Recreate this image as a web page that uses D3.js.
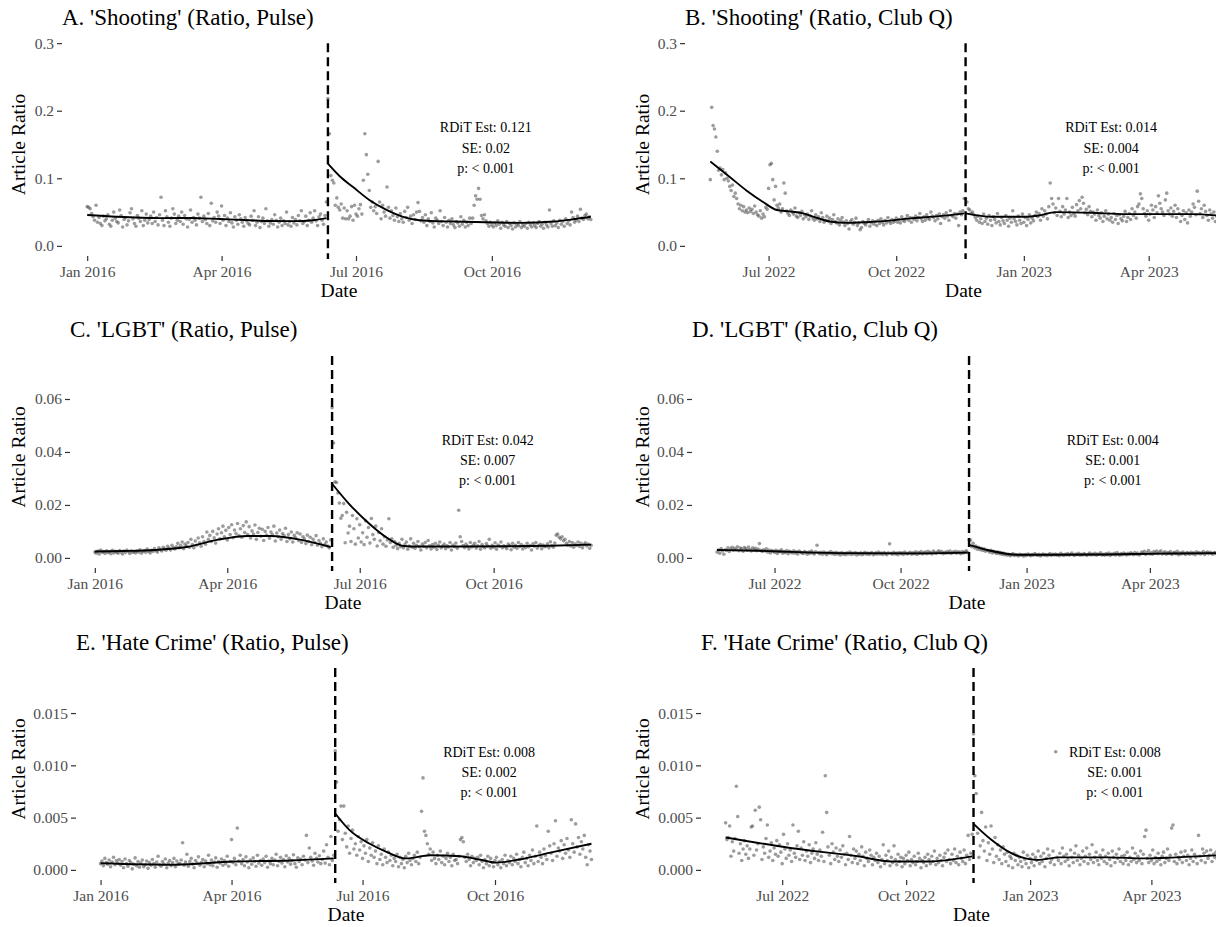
<!DOCTYPE html>
<html>
<head>
<meta charset="utf-8">
<script src="https://cdn.jsdelivr.net/npm/d3@7"></script>
<style>
  body { margin: 0; background: #fff; }
  svg { display: block; font-family: "Liberation Serif", "Times New Roman", serif; }
</style>
</head>
<body>
<div id="chart"></div>
<script>
// ---- dates ----
const pulseStart = "2016-01-01", pulseEvent = "2016-06-12";
const clubqStart = "2022-05-20", clubqEvent = "2022-11-20";
const pulseTicks = ["2016-01-01", "2016-04-01", "2016-07-01", "2016-10-01"];
const clubqTicks = ["2022-07-01", "2022-10-01", "2023-01-01", "2023-04-01"];

// ---- daily values (integers; multiply by the panel unit) ----
// A. 'Shooting' Pulse, unit 0.001
const shootingPulsePre = [
  58,57,55,48,43,38,60, 35,42,33,30,44,37,40, 46,32,29,38,50,41,36, 34,53,45,28,39,42,31,
  37,49,55,40,33,29,45, 41,36,52,30,38,47,34, 39,44,33,50,36,42,31, 46,72,38,30,52,43,35,
  29,41,55,47,33,38,44, 36,50,32,45,40,28,39, 53,35,42,38,31,47,41, 72,36,44,39,33,48,30,
  63,37,42,35,50,44,33, 59,38,45,30,41,36,49, 34,28,43,38,32,46,40, 35,29,42,37,33,31,44,
  38,52,30,35,43,27,36, 41,33,55,37,29,34,39, 32,46,38,28,35,41,30, 37,33,50,31,36,29,42,
  34,39,31,45,37,52,33, 36,44,30,38,49,35,41, 52,37,30,43,47,38,32, 45,65
];
const shootingPulsePost = [
  218,166,104,97,93,60,71, 57,53,62,41,56,40,52, 40,44,58,38,60,47,44, 55,61,47,97,166,135,106,
  82,57,65,52,58,48,125, 65,40,60,50,44,87,57, 41,52,45,38,56,43,36, 48,40,35,51,42,57,38,
  44,33,46,39,50,64,51, 37,42,35,46,30,40,36, 49,34,28,41,38,33,52, 36,30,42,35,28,38,33,
  40,31,27,36,34,29,43, 32,38,28,35,30,41,33, 41,60,74,69,85,69,45, 40,46,37,33,29,35,31,
  28,34,30,37,32,26,35, 31,29,36,27,33,30,25, 34,28,32,30,36,27,31, 29,33,26,35,31,28,34,
  30,27,33,36,29,32,26, 35,31,28,53,33,29,37, 30,34,27,38,32,36,29, 40,33,37,31,50,42,35,
  38,44,36,54,41,39,45, 47,40,43,39
];
// B. 'Shooting' Club Q, unit 0.001
const shootingClubqPre = [
  98,205,178,173,161,140,112, 115,105,113,98,108,100,96, 88,82,90,73,78,70,62, 55,60,52,58,50,53,49,
  56,51,54,48,59,50,46, 44,52,41,47,43,57,54, 85,120,122,98,68,88,60, 56,62,50,55,93,78,52,
  48,45,53,50,47,56,44, 42,49,45,51,40,46,43, 47,39,44,52,41,38,46, 40,43,36,49,42,35,38,
  44,37,41,33,39,46,36, 34,40,31,38,42,35,30, 37,33,25,36,39,32,35, 41,30,34,24,27,36,33,
  31,35,39,29,34,37,32, 36,30,38,33,40,35,31, 38,34,42,36,33,39,35, 37,41,35,39,34,43,38,
  36,40,45,38,42,35,41, 39,44,37,42,48,40,36, 43,38,46,41,39,50,44, 42,37,45,40,47,33,43,
  46,41,49,44,38,52,45, 43,48,41,47,30,50,46, 52,70
];
const shootingClubqPost = [
  70,65,55,53,48,50,46, 42,38,44,35,40,33,47, 36,41,32,45,38,30,43, 39,34,48,36,31,42,37,
  33,45,38,29,41,35,52, 40,36,31,44,38,33,47, 35,42,30,39,46,34,41, 37,45,50,43,48,38,55,
  44,52,47,40,58,93,70, 62,49,56,45,70,51,43, 58,47,53,70,42,50,45, 57,48,44,61,52,67,55,
  72,63,49,54,46,58,51, 43,50,47,38,53,45,41, 49,36,44,52,40,47,38, 42,35,48,39,45,33,46,
  40,37,44,51,36,42,48, 39,55,45,50,41,58,62, 77,70,55,48,44,52,38, 47,60,53,42,58,49,74,
  63,55,50,45,68,78,52, 47,56,44,51,60,42,55, 48,36,45,52,39,49,34, 53,44,50,62,57,46,81,
  66,48,55,42,60,51,45, 38,53,47,41,50,36,44
];
// C. 'LGBT' Pulse, unit 0.0001
const lgbtPulsePre = [
  22,18,26,15,30,21,24, 17,27,20,23,16,29,19, 25,21,18,28,22,15,26, 20,30,24,17,27,21,23,
  19,26,22,31,18,24,28, 21,33,25,19,29,24,35, 27,22,38,31,26,40,33, 29,44,36,30,48,38,34,
  42,55,39,47,60,35,52, 45,58,40,70,50,38,64, 48,75,57,44,80,62,52, 98,70,85,62,100,76,56,
  90,110,72,95,120,80,104, 68,115,88,125,76,105,92, 130,84,110,78,122,96,136, 88,118,75,102,90,124,70,
  96,112,82,108,66,100,86, 115,74,98,88,120,64,94, 80,105,70,92,84,112,62, 88,72,98,60,85,76,95,
  66,90,58,80,72,54,86, 62,78,50,70,58,84,48, 66,55,42,72,50,60,45, 38,68
];
const lgbtPulsePost = [
  567,434,287,285,245,207,150, 160,205,57,172,94,120,62, 160,110,52,148,75,125,60, 95,50,140,78,115,56,149,
  88,70,120,45,96,65,110, 52,80,44,68,148,58,72, 40,62,48,35,55,42,70, 38,50,60,33,45,72,40,
  55,36,48,62,42,30,52, 44,58,38,66,46,34,50, 40,55,32,48,60,38,45, 52,35,46,41,58,30,49,
  43,56,36,180,80,62,47, 39,52,44,34,58,41,48, 55,37,46,62,33,50,42, 38,54,45,70,36,48,40,
  57,33,49,44,60,38,46, 42,35,52,47,31,55,40, 48,36,58,43,50,34,45, 39,55,41,47,30,53,44,
  58,37,46,51,35,49,42, 44,53,38,61,47,40,56, 86,90,78,72,80,65,70, 55,48,62,45,58,40,52,
  47,60,43,55,38,50,57, 45,52,36,48
];
// D. 'LGBT' Club Q, unit 0.0001
const lgbtClubqPre = [
  22,30,18,35,26,14,31, 28,38,24,33,40,29,36, 31,42,27,37,34,25,39, 35,29,41,32,26,38,30,
  36,27,33,54,29,24,31, 26,34,22,30,19,28,25, 21,29,17,26,23,31,18, 24,20,28,16,25,22,19,
  27,18,23,15,26,21,19, 17,24,20,14,22,18,26, 19,15,23,48,20,16,21, 14,22,18,12,20,17,24,
  16,19,13,21,15,18,11, 20,14,17,12,19,15,22, 13,18,15,20,11,17,14, 19,12,16,21,14,18,13,
  17,20,12,15,19,14,22, 15,18,13,20,16,12,19, 53,17,14,21,15,18,12, 20,16,19,13,22,17,15,
  18,21,14,19,16,23,13, 20,17,24,15,19,22,16, 25,18,21,15,26,20,17, 22,27,19,24,16,21,18,
  24,19,26,17,22,20,25, 18,23,21,16,24,19,22, 27,20
];
const lgbtClubqPost = [
  69,67,42,55,38,45,33, 40,31,36,28,34,25,30, 27,22,29,19,25,21,17, 23,16,20,13,18,12,15,
  10,14,8,12,16,9,13, 11,7,14,10,12,6,13, 9,15,11,8,13,10,16, 12,9,14,7,11,15,10,
  13,8,12,16,9,14,11, 15,10,13,8,17,12,9, 14,11,16,10,13,18,12, 9,15,12,17,10,14,11,
  16,13,9,14,18,11,15, 12,17,10,15,13,19,11, 14,10,16,12,18,9,15, 13,17,11,20,14,10,16,
  12,18,15,11,17,13,19, 16,12,20,14,18,11,15, 22,17,25,13,19,28,15, 20,14,24,18,26,16,21,
  27,15,19,23,14,20,17, 24,13,18,21,16,25,12, 19,15,22,17,13,20,18, 14,21,16,19,12,23,17,
  20,15,18,24,13,19,22, 16,21,17,14,20,18,15
];
// E. 'Hate Crime' Pulse, unit 0.00001
const hatePulsePre = [
  60,85,40,110,70,55,95, 30,75,120,50,90,65,100, 45,80,20,105,60,35,90, 70,10,55,115,40,80,25,
  65,95,30,50,85,15,70, 45,100,60,25,75,130,50, 35,80,55,105,20,65,90, 40,70,110,30,85,55,60,
  95,260,45,75,150,35,80, 110,55,20,90,65,125,45, 70,100,30,85,60,140,50, 95,40,75,115,25,80,65,
  105,45,90,60,130,35,80, 290,70,110,50,400,85,140, 60,100,40,125,75,20,95, 55,115,80,35,140,65,90,
  45,105,70,130,25,85,60, 110,50,95,150,40,80,120, 65,100,30,135,75,110,55, 90,145,60,25,115,80,105,
  50,130,95,330,70,210,120, 85,45,160,110,75,135,60, 100,180,65,240,120,50,320, 90,140
];
const hatePulsePost = [
  1140,840,370,480,610,290,610, 350,220,420,160,300,380,200, 250,140,320,190,270,110,230, 160,290,80,210,140,260,120,
  180,60,230,100,150,50,200, 120,70,170,90,140,40,110, 80,150,30,120,60,100,20, 130,70,160,90,50,110,140,
  80,170,60,120,560,880,370, 330,250,150,200,90,170,110, 60,140,100,180,70,130,50, 110,160,80,120,40,150,90,
  100,60,130,290,310,270,120, 80,150,100,40,130,70,110, 90,120,50,140,80,20,100, 60,130,40,110,70,30,90,
  120,50,80,20,100,60,140, 40,90,70,130,50,110,80, 150,60,100,30,120,170,70, 110,40,140,90,190,60,130,
  420,80,170,120,60,200,140, 100,370,230,160,90,250,470, 130,210,180,280,110,240,160, 300,190,120,480,250,170,440,
  220,310,150,270,200,330,120, 50,240,180,100
];
// F. 'Hate Crime' Club Q, unit 0.00001
const hateClubqPre = [
  450,290,310,420,130,270,180, 300,800,510,160,250,90,200, 280,150,230,110,200,410,420, 140,570,190,250,600,480,100,
  220,160,300,430,120,180,260, 90,210,150,280,130,240,170, 60,340,200,110,250,140,190, 80,430,160,120,230,370,100,
  210,140,270,90,180,130,240, 70,160,200,110,260,150,90, 190,130,360,80,900,550,220, 140,60,250,170,100,210,130,
  80,190,120,230,150,50,160, 100,320,140,70,200,110,180, 60,150,90,220,130,40,170, 110,80,190,140,50,120,90,
  160,70,130,30,100,240,60, 140,90,180,40,120,70,230, 100,50,150,80,120,30,110, 60,140,90,170,40,100,70,
  130,50,80,160,110,20,90, 70,120,40,150,100,60,130, 80,180,50,110,70,140,90, 40,120,160,80,190,100,60,
  150,90,200,70,130,50,170, 110,80,190,60,140,330,100, 160,340
];
const hateClubqPost = [
  1300,900,730,350,120,230,550, 280,180,410,90,260,150,420, 200,70,310,130,240,100,190, 60,220,150,80,170,40,130,
  110,20,160,90,140,50,120, 80,30,170,100,60,140,20, 110,70,150,40,120,90,180, 60,130,80,160,30,110,200,
  140,70,100,180,50,1130,120, 90,160,60,210,130,80,150, 100,40,190,120,70,160,230, 90,140,50,110,180,80,130,
  210,60,150,100,240,70,120, 170,90,50,140,110,190,80, 130,60,160,100,40,180,120, 70,150,110,200,80,130,60,
  140,90,170,50,120,80,210, 100,160,70,130,90,180,60, 150,320,380,110,70,140,90, 190,60,120,80,160,100,50,
  130,170,70,110,200,90,140, 400,430,80,150,60,120,100, 170,70,130,180,90,140,50, 110,190,80,150,120,60,330,
  130,90,200,160,70,180,110, 140,190,80,150,120,170,100
];

// ---- smooth fits: [day offset, ratio] ----
const shootingPulseFitPre = [[0,0.0456],[20,0.043],[49,0.041],[70,0.0412],[90,0.0397],[110,0.038],[122,0.0368],[140,0.0366],[153,0.038],[162,0.041]];
const shootingPulseFitPost = [[0,0.1216],[8,0.103],[17,0.087],[28,0.068],[40,0.053],[51,0.043],[62,0.038],[85,0.036],[108,0.035],[130,0.034],[153,0.036],[165,0.039],[178,0.043]];
const shootingClubqFitPre = [[0,0.125],[14,0.102],[26,0.082],[38,0.065],[48,0.053],[57,0.051],[67,0.048],[76,0.042],[86,0.036],[98,0.034],[112,0.035],[127,0.037],[146,0.041],[165,0.044],[183,0.048]];
const shootingClubqFitPost = [[0,0.048],[19,0.043],[43,0.043],[53,0.045],[65,0.05],[91,0.049],[115,0.047],[139,0.047],[163,0.047],[181,0.045]];
const lgbtPulseFitPre = [[0,0.0024],[20,0.0026],[41,0.003],[63,0.0041],[84,0.0068],[105,0.0083],[121,0.0083],[142,0.0068],[162,0.0041]];
const lgbtPulseFitPost = [[0,0.028],[11,0.0208],[25,0.0132],[38,0.0075],[49,0.0045],[60,0.0043],[90,0.0043],[120,0.0044],[150,0.0046],[178,0.005]];
const lgbtClubqFitPre = [[0,0.003],[30,0.0027],[60,0.0022],[100,0.0018],[140,0.0017],[183,0.002]];
const lgbtClubqFitPost = [[0,0.0049],[15,0.0028],[35,0.0012],[60,0.0012],[100,0.0013],[140,0.0016],[181,0.0018]];
const hatePulseFitPre = [[0,0.00064],[51,0.0005],[92,0.0008],[132,0.0009],[162,0.0011]];
const hatePulseFitPost = [[0,0.0054],[10,0.0038],[24,0.0025],[36,0.0017],[49,0.0011],[66,0.0014],[87,0.0013],[100,0.001],[112,0.0007],[128,0.001],[151,0.0017],[178,0.0025]];
const hateClubqFitPre = [[0,0.0031],[48,0.0021],[98,0.0013],[123,0.0008],[148,0.0008],[183,0.0013]];
const hateClubqFitPost = [[0,0.0044],[13,0.0029],[28,0.0016],[47,0.00096],[64,0.0012],[100,0.0012],[127,0.0011],[150,0.0012],[181,0.0014]];

const titles = ["A. 'Shooting' (Ratio, Pulse)", "B. 'Shooting' (Ratio, Club Q)", "C. 'LGBT' (Ratio, Pulse)",
                "D. 'LGBT' (Ratio, Club Q)", "E. 'Hate Crime' (Ratio, Pulse)", "F. 'Hate Crime' (Ratio, Club Q)"];
const rdEst = ["0.121", "0.014", "0.042", "0.004", "0.008", "0.008"];
const rdSE = ["0.02", "0.004", "0.007", "0.001", "0.002", "0.001"];
const rdP = ["< 0.001", "< 0.001", "< 0.001", "< 0.001", "< 0.001", "< 0.001"];
const yTicksShooting = [0, 0.1, 0.2, 0.3];
const yTicksLgbt = [0, 0.02, 0.04, 0.06];
const yTicksHate = [0, 0.005, 0.01, 0.015];

// ---- layout ----
const W = 1216, H = 927;
const rows = [{top: 33, bottom: 256, title: 25}, {top: 346, bottom: 568, title: 337}, {top: 658, bottom: 880, title: 650}];
const cols = [{right: 616, ylab: 19}, {right: 1242, ylab: 643}];

const panels = [
  {row: 0, col: 0, left: 62, start: pulseStart, event: pulseEvent, pre: shootingPulsePre, post: shootingPulsePost, unit: 0.001,
   fitPre: shootingPulseFitPre, fitPost: shootingPulseFitPost, yMax: 0.3, yTicks: yTicksShooting, fmt: ".1f", xTicks: pulseTicks},
  {row: 0, col: 1, left: 685, start: clubqStart, event: clubqEvent, pre: shootingClubqPre, post: shootingClubqPost, unit: 0.001,
   fitPre: shootingClubqFitPre, fitPost: shootingClubqFitPost, yMax: 0.3, yTicks: yTicksShooting, fmt: ".1f", xTicks: clubqTicks},
  {row: 1, col: 0, left: 70, start: pulseStart, event: pulseEvent, pre: lgbtPulsePre, post: lgbtPulsePost, unit: 0.0001,
   fitPre: lgbtPulseFitPre, fitPost: lgbtPulseFitPost, yMax: 0.0762, yTicks: yTicksLgbt, fmt: ".2f", xTicks: pulseTicks},
  {row: 1, col: 1, left: 692, start: clubqStart, event: clubqEvent, pre: lgbtClubqPre, post: lgbtClubqPost, unit: 0.0001,
   fitPre: lgbtClubqFitPre, fitPost: lgbtClubqFitPost, yMax: 0.0762, yTicks: yTicksLgbt, fmt: ".2f", xTicks: clubqTicks},
  {row: 2, col: 0, left: 76, start: pulseStart, event: pulseEvent, pre: hatePulsePre, post: hatePulsePost, unit: 0.00001,
   fitPre: hatePulseFitPre, fitPost: hatePulseFitPost, yMax: 0.0193, yTicks: yTicksHate, fmt: ".3f", xTicks: pulseTicks},
  {row: 2, col: 1, left: 701, start: clubqStart, event: clubqEvent, pre: hateClubqPre, post: hateClubqPost, unit: 0.00001,
   fitPre: hateClubqFitPre, fitPost: hateClubqFitPost, yMax: 0.0193, yTicks: yTicksHate, fmt: ".3f", xTicks: clubqTicks}
];

const parse = d3.utcParse("%Y-%m-%d");
const svg = d3.select("#chart").append("svg")
    .attr("width", W)
    .attr("height", H)
    .style("overflow", "hidden");

panels.forEach((p, i) => {
    const r = rows[p.row], c = cols[p.col];
    const start = parse(p.start), event = parse(p.event);

    const preData = p.pre.map((v, k) => ({date: d3.utcDay.offset(start, k), value: v * p.unit}));
    const postData = p.post.map((v, k) => ({date: d3.utcDay.offset(event, k), value: v * p.unit}));
    const all = preData.concat(postData);

    const ext = d3.extent(all, d => d.date);
    const pad = (ext[1] - ext[0]) * 0.05;
    const x = d3.scaleUtc()
        .domain([new Date(+ext[0] - pad), new Date(+ext[1] + pad)])
        .range([p.left, c.right]);
    const y = d3.scaleLinear()
        .domain([-0.05 * p.yMax, 1.05 * p.yMax])
        .range([r.bottom, r.top]);

    const g = svg.append("g");

    // title
    g.append("text")
        .attr("x", p.left)
        .attr("y", r.title)
        .style("font-size", "23px")
        .attr("fill", "#000")
        .text(titles[i]);

    // axes
    const xAxis = d3.axisBottom(x)
        .tickValues(p.xTicks.map(parse))
        .tickFormat(d3.utcFormat("%b %Y"))
        .tickSize(5)
        .tickPadding(4.5);
    const yAxis = d3.axisLeft(y)
        .tickValues(p.yTicks)
        .tickFormat(d3.format(p.fmt))
        .tickSize(5)
        .tickPadding(3);

    const gx = g.append("g").attr("transform", `translate(0,${r.bottom})`).call(xAxis);
    const gy = g.append("g").attr("transform", `translate(${p.left},0)`).call(yAxis);
    [gx, gy].forEach(a => {
        a.select(".domain").remove();
        a.selectAll(".tick line").attr("stroke", "#333").attr("stroke-width", 1.2);
        a.selectAll(".tick text")
            .attr("fill", "#4d4d4d")
            .style("font-family", "'Liberation Serif', serif")
            .style("font-size", "15.5px");
    });

    // axis titles
    g.append("text")
        .attr("x", (p.left + c.right) / 2)
        .attr("y", r.bottom + 41)
        .attr("text-anchor", "middle")
        .style("font-size", "19.5px")
        .text("Date");
    g.append("text")
        .attr("transform", `translate(${c.ylab + 6},${(r.top + r.bottom) / 2}) rotate(-90)`)
        .attr("text-anchor", "middle")
        .style("font-size", "19.5px")
        .text("Article Ratio");

    // points
    g.append("g").selectAll("circle")
        .data(all)
        .join("circle")
        .attr("cx", d => x(d.date))
        .attr("cy", d => y(d.value))
        .attr("r", 1.8)
        .attr("fill", "#4a4a4a")
        .attr("fill-opacity", 0.55);

    // smooth fits
    const line = d3.line()
        .x(d => x(d[0]))
        .y(d => y(d[1]))
        .curve(d3.curveMonotoneX);
    [[p.fitPre, start], [p.fitPost, event]].forEach(([fit, base]) => {
        g.append("path")
            .datum(fit.map(f => [d3.utcDay.offset(base, f[0]), f[1]]))
            .attr("d", line)
            .attr("fill", "none")
            .attr("stroke", "#000")
            .attr("stroke-width", 1.9);
    });

    // cutoff line
    g.append("line")
        .attr("x1", x(event)).attr("x2", x(event))
        .attr("y1", y(p.yMax)).attr("y2", r.bottom + 3)
        .attr("stroke", "#000")
        .attr("stroke-width", 2.4)
        .attr("stroke-dasharray", "9,5");

    // RDiT annotation
    const ax = p.left + 0.765 * (c.right - p.left);
    const h = r.bottom - r.top;
    const lines = [`RDiT Est: ${rdEst[i]}`, `SE: ${rdSE[i]}`, `p: ${rdP[i]}`];
    const fr = [0.424, 0.516, 0.606];
    lines.forEach((t, k) => {
        g.append("text")
            .attr("x", ax)
            .attr("y", r.top + fr[k] * h)
            .attr("dy", "0.35em")
            .attr("text-anchor", "middle")
            .style("font-size", "14px")
            .attr("fill", "#000")
            .text(t);
    });
});
</script>
</body>
</html>
